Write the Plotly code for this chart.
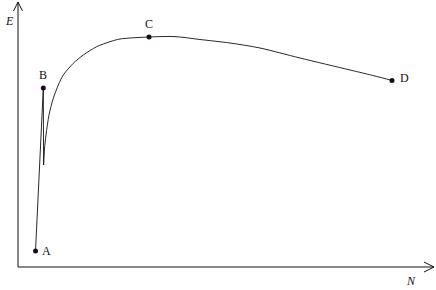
import plotly.graph_objects as go

# Data (N, E) in chart units, origin at the axes' intersection
seg_n = [17.5, 25.3, 25.6]
seg_e = [16, 179, 102]

curve_n = [25.6, 26.5, 28, 31, 35.3, 40.3, 45.3, 55.3, 65.3, 78.7, 92, 102, 131, 157, 182, 212, 242, 282, 332, 357, 374]
curve_e = [102, 118, 132, 152, 168.7, 182, 192, 203.7, 212, 220.3, 225.3, 228, 230, 230.4, 227.5, 224, 219, 209, 197, 191, 186.5]

point_labels = ["A", "B", "C", "D"]
point_n = [17.5, 25.3, 131, 374]
point_e = [16, 179, 230, 186.5]

x_min, x_max = -18, 418
y_min, y_max = -23, 267
axis_len_n = 416
axis_len_e = 265

fig = go.Figure()

line_col = "#111111"
# axes
fig.add_trace(go.Scatter(x=[0, axis_len_n], y=[0, 0], mode="lines",
                         line=dict(color=line_col, width=1), hoverinfo="skip"))
fig.add_trace(go.Scatter(x=[0, 0], y=[0, axis_len_e], mode="lines",
                         line=dict(color=line_col, width=1), hoverinfo="skip"))
# arrow heads (open chevrons)
fig.add_trace(go.Scatter(x=[axis_len_n - 10, axis_len_n, axis_len_n - 10], y=[5, 0, -5], mode="lines",
                         line=dict(color=line_col, width=1), hoverinfo="skip"))
fig.add_trace(go.Scatter(x=[-4.5, 0, 4.5], y=[axis_len_e - 9, axis_len_e, axis_len_e - 9], mode="lines",
                         line=dict(color=line_col, width=1), hoverinfo="skip"))

# A-B rise and drop
fig.add_trace(go.Scatter(x=seg_n, y=seg_e, mode="lines",
                         line=dict(color=line_col, width=0.9), hoverinfo="skip"))
# main curve
fig.add_trace(go.Scatter(x=curve_n, y=curve_e, mode="lines",
                         line=dict(color=line_col, width=0.9, shape="spline", smoothing=0.8),
                         hoverinfo="skip"))
# points
fig.add_trace(go.Scatter(x=point_n, y=point_e, mode="markers",
                         marker=dict(color="#1e0a20", size=5, symbol="circle"),
                         hoverinfo="skip"))

font_serif = "Liberation Serif, Times New Roman, serif"
label_offsets = {"A": (11, 0), "B": (0, 13), "C": (0, 13), "D": (12, 3)}
for lab, n, e in zip(point_labels, point_n, point_e):
    dx, dy = label_offsets[lab]
    fig.add_annotation(x=n, y=e, text=lab, showarrow=False, xshift=dx, yshift=dy,
                       font=dict(family=font_serif, size=12, color="#111111"))

fig.add_annotation(x=0, y=axis_len_e, text="<i>E</i>", showarrow=False, xshift=-9, yshift=-19,
                   font=dict(family=font_serif, size=12, color="#111111"))
fig.add_annotation(x=axis_len_n, y=0, text="<i>N</i>", showarrow=False, xshift=-23, yshift=-14,
                   font=dict(family=font_serif, size=12, color="#111111"))

fig.update_layout(
    width=436, height=290,
    margin=dict(l=0, r=0, t=0, b=0),
    paper_bgcolor="white", plot_bgcolor="white",
    showlegend=False,
    xaxis=dict(range=[x_min, x_max], visible=False, fixedrange=True),
    yaxis=dict(range=[y_min, y_max], visible=False, fixedrange=True),
)

fig.write_html("out.html")
